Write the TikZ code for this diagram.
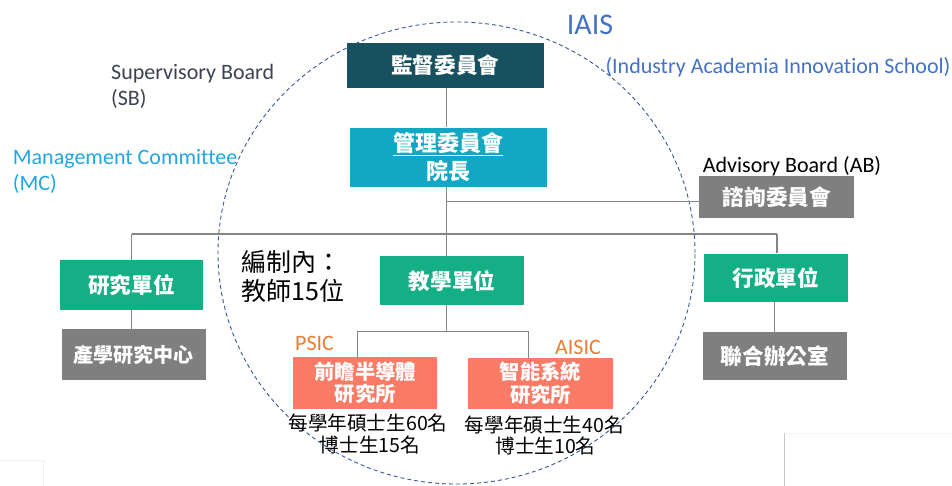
\documentclass[tikz,border=0pt]{standalone}
\usepackage{fontspec}
\setmainfont{Carlito}[Ligatures=NoCommon]
\newfontfamily\cjk{Noto Sans CJK TC}
\definecolor{sbcol}{HTML}{17505F}
\definecolor{mccol}{HTML}{12A7C3}
\definecolor{grncol}{HTML}{15AF86}
\definecolor{grycol}{HTML}{7F7F7F}
\definecolor{salcol}{HTML}{F97A65}
\definecolor{lincol}{HTML}{858585}
\definecolor{ellcol}{HTML}{3A5896}
\definecolor{sbtxt}{HTML}{3E4152}
\definecolor{mctxt}{HTML}{22A6E0}
\definecolor{iaistxt}{HTML}{4472C4}
\definecolor{orgtxt}{HTML}{ED7D31}
\begin{document}
\begin{tikzpicture}[x=1pt,y=-1pt,
  box/.style={inner sep=0pt, text=white, align=center,
    font=\cjk\bfseries\fontsize{21.6}{24}\selectfont},
  conn/.style={draw=lincol, line width=1.3pt},
  en/.style={inner sep=0pt, anchor=base west, font=\fontsize{22}{26}\selectfont},
  numtxt/.style={inner sep=0pt, text=black, font=\cjk\fontsize{19.6}{22}\selectfont},
  bigtxt/.style={inner sep=0pt, anchor=west, text=black, font=\cjk\fontsize{25}{30}\selectfont},
  faint/.style={draw=black!22, line width=0.8pt},
  ring/.style={draw=ellcol, line width=0.9pt, dash pattern=on 4pt off 3pt}]
\useasboundingbox[fill=white] (0,0) rectangle (952,486);
% faint edges
\draw[draw=black!6, line width=0.8pt] (0,460.3) -- (43.3,460.3) -- (43.3,486);
\draw[draw=black!4, line width=0.8pt] (784.3,433) -- (952,433);
\draw[faint] (784.3,433) -- (784.3,486);
% dashed boundary
\draw[ring] (456.5,253) ellipse [x radius=238.5pt, y radius=231pt];
% boxes
\node[box, fill=sbcol, minimum width=197pt, minimum height=45pt] (sb) at (445.2,65.2) {監督委員會};
\node[box, fill=mccol, minimum width=196.7pt, minimum height=59pt,
  font=\cjk\bfseries\fontsize{22}{28.5}\selectfont] (mc) at (448.3,157.2) {\underline{管理委員會}\\院長};
\node[box, fill=grycol, minimum width=155pt, minimum height=42.3pt] (ab) at (776.8,197.2) {諮詢委員會};
\node[box, fill=grncol, minimum width=143pt, minimum height=49.4pt] (res) at (131.5,285) {研究單位};
\node[box, fill=grycol, minimum width=144pt, minimum height=51.3pt,
  font=\cjk\bfseries\fontsize{20}{22}\selectfont] (irc) at (133.7,354.7) {產學研究中心};
\node[box, fill=grncol, minimum width=143.7pt, minimum height=48.7pt] (teach) at (452,280.7) {教學單位};
\node[box, fill=grncol, minimum width=143.7pt, minimum height=48.3pt] (admin) at (775.8,277.8) {行政單位};
\node[box, fill=grycol, minimum width=143.7pt, minimum height=48.6pt] (office) at (774.8,356) {聯合辦公室};
\node[box, fill=salcol, minimum width=144pt, minimum height=51.4pt,
  font=\cjk\bfseries\fontsize{20.3}{22.5}\selectfont] (psic) at (365.3,383) {前瞻半導體\\研究所};
\node[box, fill=salcol, minimum width=144.4pt, minimum height=50.7pt,
  font=\cjk\bfseries\fontsize{20.3}{22.5}\selectfont] (aisic) at (540.5,383.3) {智能系統\\研究所};
% junctions
\coordinate (spine) at (446.7,234);
\coordinate (barL) at (131.7,234);
\coordinate (barR) at (777,234);
\coordinate (abj) at (446.7,201.3);
\coordinate (sub) at (446.7,331.3);
\coordinate (subL) at (357.3,331.3);
\coordinate (subR) at (528.7,331.3);
% connectors
\draw[conn] (sb.south -| spine) -- (mc.north -| spine);
\draw[conn] (mc.south -| spine) -- (spine);
\draw[conn] (abj) -- (abj -| ab.west);
\draw[conn] (barL) -- (barR);
\draw[conn] (barL) -- (barL |- res.north);
\draw[conn] (barR) -- (barR |- admin.north);
\draw[conn] (spine) -- (spine |- teach.north);
\draw[conn] (res.south) -- (res.south |- irc.north);
\draw[conn] (office.north |- admin.south) -- (office.north);
\draw[conn] (teach.south -| sub) -- (sub);
\draw[conn] (subL) -- (subR);
\draw[conn] (subL) -- (subL |- psic.north);
\draw[conn] (subR) -- (subR |- aisic.north);
% labels
\node[en, text=sbtxt] (sbl1) at (111,80) {Supervisory Board};
\node[en, text=sbtxt] (sbl2) at (111,105.5) {(SB)};
\node[en, text=mctxt] (mcl1) at (12.7,165) {Management Committee};
\node[en, text=mctxt] (mcl2) at (12.7,190.5) {(MC)};
\node[en, text=iaistxt, font=\fontsize{30}{34}\selectfont] (iais) at (566.7,35) {IAIS};
\node[en, text=iaistxt] (iaisl) at (605.3,73.3) {(Industry Academia Innovation School)};
\node[en, text=black] (abl) at (702.7,172.3) {Advisory Board (AB)};
\node[en, text=orgtxt] (psicl) at (295,350.7) {PSIC};
\node[en, text=orgtxt] (aisicl) at (555,354.7) {AISIC};
\node[bigtxt] (staff1) at (241.7,262) {編制內：};
\node[bigtxt] (staff2) at (241.7,291.3) {教師15位};
\node[numtxt] (psicn1) at (368,423) {每學年碩士生60名};
\node[numtxt] (psicn2) at (370,445) {博士生15名};
\node[numtxt] (aisicn1) at (544.3,424.7) {每學年碩士生40名};
\node[numtxt] (aisicn2) at (545.5,446.3) {博士生10名};
\end{tikzpicture}
\end{document}
